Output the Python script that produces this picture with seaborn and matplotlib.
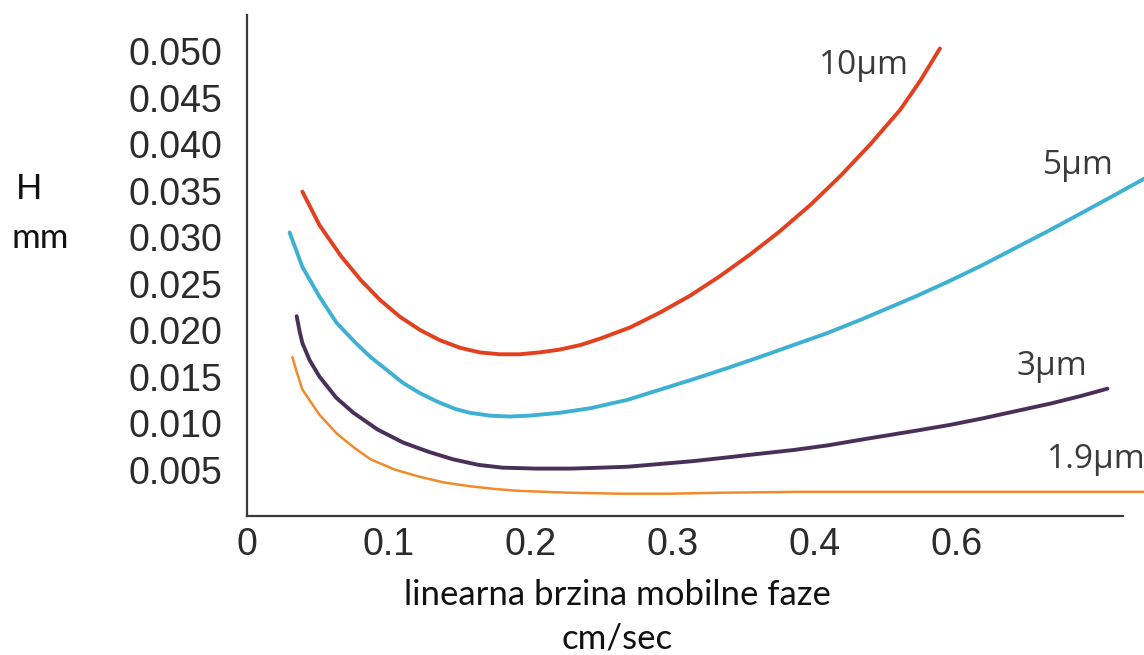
import pandas as pd
import seaborn as sns
import matplotlib.pyplot as plt

# curves (x in cm/sec, H in mm)
x_10 = [0.039, 0.051, 0.066, 0.080, 0.094, 0.108, 0.122, 0.136, 0.150, 0.164, 0.178, 0.192, 0.206, 0.220,
        0.235, 0.249, 0.270, 0.291, 0.312, 0.333, 0.354, 0.375, 0.397, 0.418, 0.439, 0.460, 0.474, 0.488]
h_10 = [0.0349, 0.0313, 0.0280, 0.0254, 0.0232, 0.0214, 0.0200, 0.0189, 0.0181, 0.0176, 0.0174, 0.0174, 0.0176, 0.0179,
        0.0184, 0.0191, 0.0203, 0.0219, 0.0237, 0.0258, 0.0281, 0.0306, 0.0335, 0.0366, 0.0400, 0.0437, 0.0468, 0.0503]

x_5 = [0.030, 0.039, 0.051, 0.063, 0.076, 0.087, 0.101, 0.110, 0.122, 0.134, 0.147, 0.157, 0.171, 0.185, 0.199, 0.220, 0.242,
       0.268, 0.291, 0.314, 0.338, 0.361, 0.385, 0.409, 0.432, 0.472, 0.495, 0.518, 0.542, 0.566, 0.589, 0.613, 0.632]
h_5 = [0.0305, 0.0268, 0.0236, 0.0208, 0.0187, 0.0171, 0.0154, 0.0143, 0.0132, 0.0123, 0.0115, 0.0111, 0.0108, 0.0107,
       0.0108, 0.0111, 0.0116, 0.0125, 0.0136, 0.0147, 0.0159, 0.0171, 0.0184, 0.0197, 0.0211, 0.0237, 0.0253, 0.0270,
       0.0289, 0.0308, 0.0327, 0.0347, 0.0363]

x_3 = [0.035, 0.037, 0.039, 0.044, 0.051, 0.063, 0.075, 0.092, 0.110, 0.128, 0.145, 0.163, 0.180, 0.204, 0.228, 0.249,
       0.268, 0.291, 0.314, 0.338, 0.361, 0.385, 0.409, 0.432, 0.472, 0.495, 0.518, 0.542, 0.566, 0.587, 0.606]
h_3 = [0.0215, 0.0199, 0.0186, 0.0168, 0.0150, 0.0127, 0.0111, 0.0093, 0.0079, 0.0069, 0.0061, 0.0055, 0.0052, 0.0051,
       0.0051, 0.0052, 0.0053, 0.0056, 0.0059, 0.0063, 0.0067, 0.0071, 0.0076, 0.0082, 0.0092, 0.0098, 0.0105, 0.0113,
       0.0121, 0.0129, 0.0137]

x_19 = [0.032, 0.035, 0.039, 0.051, 0.063, 0.075, 0.087, 0.104, 0.122, 0.139, 0.157, 0.175, 0.192, 0.228, 0.263,
        0.298, 0.333, 0.389, 0.460, 0.530, 0.632]
h_19 = [0.0171, 0.0155, 0.0136, 0.0109, 0.0089, 0.0074, 0.0061, 0.0050, 0.0042, 0.0036, 0.0032, 0.0029, 0.0027, 0.0025,
        0.0024, 0.0024, 0.0025, 0.0026, 0.0026, 0.0026, 0.0026]

series = ['10µm', '5µm', '3µm', '1.9µm']
colors = ['#e2401f', '#3eb1d3', '#4a2f59', '#f28a2a']
widths = [2.8, 2.8, 2.8, 1.8]

x_ticks = [0, 0.1, 0.2, 0.3, 0.4, 0.5]
x_labels = ['0', '0.1', '0.2', '0.3', '0.4', '0.6']
y_ticks = [0.005, 0.010, 0.015, 0.020, 0.025, 0.030, 0.035, 0.040, 0.045, 0.050]

frames = []
for name, xs, hs in zip(series, [x_10, x_5, x_3, x_19], [h_10, h_5, h_3, h_19]):
    frames.append(pd.DataFrame({'v': xs, 'H': hs, 'particle': name}))
df = pd.concat(frames, ignore_index=True)

sns.set_style('white')
plt.rcParams['font.family'] = ['Liberation Sans', 'DejaVu Sans']

fig = plt.figure(figsize=(11.44, 6.55), dpi=100)
ax = fig.add_axes([247 / 1144, 1 - 516 / 655, 897 / 1144, 501 / 655])

for name, c, lw in zip(series, colors, widths):
    sns.lineplot(data=df[df['particle'] == name], x='v', y='H', color=c, linewidth=lw,
                 sort=False, estimator=None, ax=ax)

ax.set_xlim(0, 0.6317)
ax.set_ylim(0, 0.0539)
sns.despine(ax=ax)
ax.spines['bottom'].set_bounds(0, 0.617)
for s in ['left', 'bottom']:
    ax.spines[s].set_color('#3a3a3a')
    ax.spines[s].set_linewidth(1.6)

ax.set_xticks(x_ticks)
ax.set_xticklabels(x_labels)
ax.set_yticks(y_ticks)
ax.set_yticklabels([f'{t:.3f}' for t in y_ticks])
ax.tick_params(axis='y', length=0, pad=18, labelsize=27, labelcolor='#2b2b2b')
ax.tick_params(axis='x', length=0, pad=8, labelsize=27, labelcolor='#2b2b2b')
ax.set_xlabel('')
ax.set_ylabel('')

lab_kw = dict(fontsize=24, color='#3a3a3a', family=['Open Sans', 'DejaVu Sans'], va='center')
ax.text(0.4345, 0.0485, '10µm', ha='center', **lab_kw)
ax.text(0.5852, 0.0377, '5µm', ha='center', **lab_kw)
ax.text(0.5669, 0.0161, '3µm', ha='center', **lab_kw)
ax.text(0.5634, 0.0061, '1.9µm', ha='left', **lab_kw)

txt_kw = dict(fontsize=25, color='#111111', family=['Lato', 'DejaVu Sans'], va='center', ha='center')
fig.text(617 / 1144, 1 - 595 / 655, 'linearna brzina mobilne faze', **txt_kw)
fig.text(617 / 1144, 1 - 638 / 655, 'cm/sec', **txt_kw)
fig.text(29 / 1144, 1 - 189 / 655, 'H', **txt_kw)
fig.text(40 / 1144, 1 - 238 / 655, 'mm', **txt_kw)

fig.savefig('out.png', dpi=100)
